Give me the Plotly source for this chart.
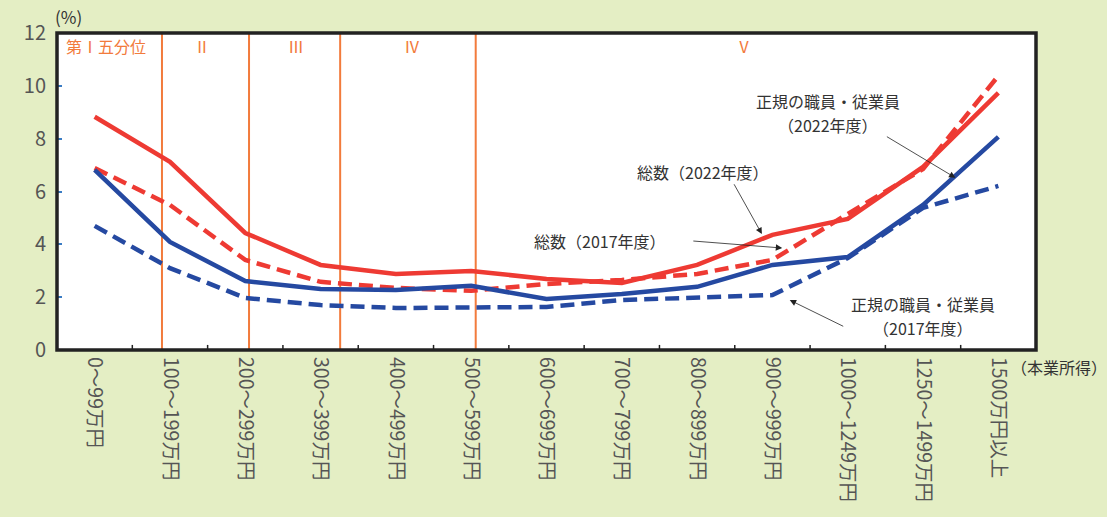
import plotly.graph_objects as go

categories = ["0～99万円", "100～199万円", "200～299万円", "300～399万円", "400～499万円",
              "500～599万円", "600～699万円", "700～799万円", "800～899万円", "900～999万円",
              "1000～1249万円", "1250～1499万円", "1500万円以上"]
total_2022 = [8.83, 7.12, 4.43, 3.22, 2.88, 2.99, 2.69, 2.54, 3.22, 4.36, 4.96, 6.93, 9.73]
total_2017 = [6.89, 5.49, 3.41, 2.58, 2.35, 2.24, 2.50, 2.65, 2.88, 3.41, 5.15, 6.85, 10.38]
regular_2022 = [6.82, 4.09, 2.61, 2.31, 2.27, 2.43, 1.93, 2.12, 2.39, 3.22, 3.52, 5.49, 8.07]
regular_2017 = [4.70, 3.10, 1.97, 1.70, 1.59, 1.59, 1.63, 1.89, 2.00, 2.08, 3.48, 5.38, 6.21]
y_ticks = [0, 2, 4, 6, 8, 10, 12]
quintile_labels = ["第Ⅰ五分位", "Ⅱ", "Ⅲ", "Ⅳ", "Ⅴ"]

# layout helpers (positions, not data)
quintile_bounds = [0.894, 2.05, 3.26, 5.06]
quintile_label_x = [0.15, 1.43, 2.67, 4.21, 8.62]

RED = "#EE3A33"
BLUE = "#2549A1"
ORANGE = "#F27B3C"
FONT = "Noto Sans CJK JP"

xi = list(range(len(categories)))
fig = go.Figure()
fig.add_trace(go.Scatter(x=xi, y=regular_2017, mode="lines",
                         line=dict(color=BLUE, width=4.5, dash="14px,7px")))
fig.add_trace(go.Scatter(x=xi, y=total_2017, mode="lines",
                         line=dict(color=RED, width=4.5, dash="14px,7px")))
fig.add_trace(go.Scatter(x=xi, y=regular_2022, mode="lines",
                         line=dict(color=BLUE, width=4.5)))
fig.add_trace(go.Scatter(x=xi, y=total_2022, mode="lines",
                         line=dict(color=RED, width=4.5)))

shapes = []
for b in quintile_bounds:
    shapes.append(dict(type="line", xref="x", yref="y", x0=b, x1=b, y0=0, y1=12,
                       line=dict(color=ORANGE, width=2), layer="below"))
shapes.append(dict(type="rect", xref="paper", yref="paper", x0=0, x1=1, y0=0, y1=1,
                   line=dict(color="#222222", width=3.5)))
# boundary ticks on x-axis
for k in range(1, len(categories)):
    shapes.append(dict(type="line", xref="x", yref="paper", x0=k - 0.5, x1=k - 0.5,
                       y0=0, y1=0.016, line=dict(color="#222222", width=1.5)))

annotations = []
for lab, lx in zip(quintile_labels, quintile_label_x):
    annotations.append(dict(x=lx, y=11.45, xref="x", yref="y", text=lab, showarrow=False,
                            font=dict(family="Liberation Serif, Noto Sans CJK JP",
                                      size=16, color=ORANGE)))

txt_font = dict(family=FONT, size=16, color="#333333")
labels = [
    ("正規の職員・従業員", 9.74, 9.43),
    ("（2022年度）", 9.74, 8.50),
    ("総数（2022年度）", 8.08, 6.74),
    ("総数（2017年度）", 6.71, 4.13),
    ("正規の職員・従業員", 11.0, 1.76),
    ("（2017年度）", 11.0, 0.83),
]
for t, tx, ty in labels:
    annotations.append(dict(x=tx, y=ty, xref="x", yref="y", text=t, showarrow=False,
                            font=txt_font, align="center"))
arrows = [
    ((10.5, 8.11), (11.43, 6.52)),
    ((8.48, 6.33), (8.86, 4.39)),
    ((7.93, 4.13), (9.13, 3.86)),
    ((9.96, 0.87), (9.23, 1.89)),
]
for (tx, ty), (hx, hy) in arrows:
    annotations.append(dict(x=hx, y=hy, ax=tx, ay=ty, xref="x", yref="y", axref="x", ayref="y",
                            text="", font=dict(size=1), showarrow=True, arrowhead=2,
                            arrowsize=1.6, arrowwidth=0.8, arrowcolor="#222222", standoff=0))

annotations.append(dict(x=0.012, y=1.0, xref="paper", yref="paper", yanchor="bottom",
                        yshift=2, xanchor="center", text="(%)", showarrow=False,
                        font=dict(family=FONT, size=17, color="#333333")))
annotations.append(dict(x=0.972, y=-0.098, xref="paper", yref="paper", xanchor="left",
                        text="（本業所得）", showarrow=False,
                        font=dict(family=FONT, size=16, color="#333333")))

fig.update_layout(
    width=1107, height=517,
    margin=dict(l=57, r=71, t=33, b=167),
    paper_bgcolor="#E4EEC4",
    plot_bgcolor="white",
    showlegend=False,
    shapes=shapes,
    annotations=annotations,
    xaxis=dict(
        tickmode="array", tickvals=xi, ticktext=categories, tickangle=90,
        range=[-0.5, 12.5], showgrid=False, zeroline=False, ticks="",
        tickfont=dict(family=FONT, size=19.5, color="#555555"),
        ticklabelstandoff=6, showline=False,
    ),
    yaxis=dict(
        range=[0, 12], tickvals=y_ticks, showgrid=False, zeroline=False,
        ticks="inside", ticklen=5, tickcolor="#3A7CC4", tickwidth=2,
        tickfont=dict(family=FONT, size=20, color="#555555"),
        ticklabelstandoff=10, showline=False,
    ),
)

fig.write_html("out.html")
